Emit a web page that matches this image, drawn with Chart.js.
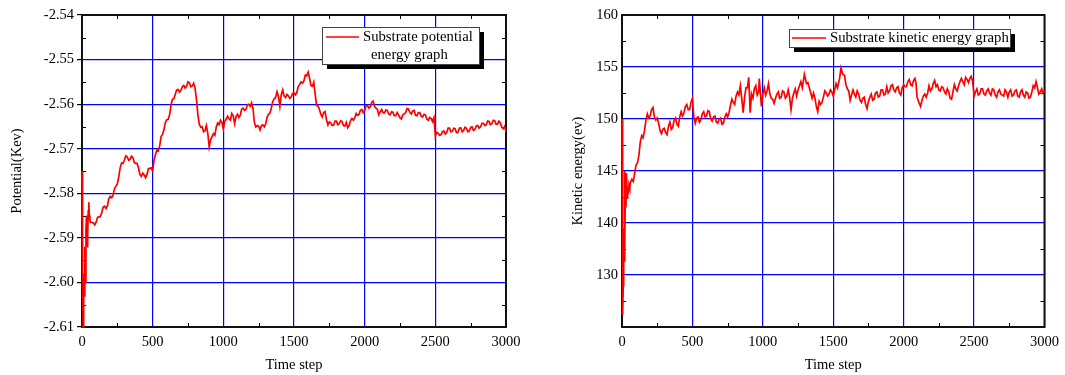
<!DOCTYPE html>
<html>
<head>
<meta charset="utf-8">
<script src="https://cdn.jsdelivr.net/npm/chart.js@4.4.1/dist/chart.umd.min.js"></script>
<style>
  html, body { margin: 0; padding: 0; background: #fff; }
  body { width: 1065px; height: 375px; position: relative; overflow: hidden; }
  canvas { position: absolute; top: 0; }
</style>
</head>
<body>
<canvas id="left" width="540" height="375" style="left:0"></canvas>
<canvas id="right" width="525" height="375" style="left:540px"></canvas>
<script>
// ---------------- data ----------------
const timeTicks = [0, 500, 1000, 1500, 2000, 2500, 3000];
const potTicks = [-2.61, -2.60, -2.59, -2.58, -2.57, -2.56, -2.55, -2.54];
const kinTicks = [130, 140, 145, 150, 155, 160];

// potential energy samples (set A)
const potTime = [0,4,8,12,16,20,24,28,32,36,40,44,48,52,56,60,
  80,100,120,140,160,180,200,220,240,260,280,300,320,340,360,380,400,420,440,460,480,500,
  520,540,560,580,600,620,640,660,680,700,720,740,760,780,800,820,840,860,880,900,920,940,960,980,1000,
  1020,1040,1060,1080,1100,1120,1140,1160,1180,1200,1220,1240,1260,1280,1300,1320,1340,1360,1380,1400,
  1420,1440,1460,1480,1500,1520,1540,1560,1580,1600,1620,1640,1660,1680,1700,1720,1740,1760,1780,1800,
  1820,1840,1860,1880,1900,1920,1940,1960,1980,2000,2020,2040,2060,2080,2100,2120,2140,2160,2180,2200,
  2220,2240,2260,2280,2300,2320,2340,2360,2380,2400,2420,2440,2460,2480,2490,2500,2520,2540,2560,2580,2600,
  2620,2640,2660,2680,2700,2720,2740,2760,2780,2800,2820,2840,2860,2880,2900,2920,2940,2960,2980,3000];
const potValue = [-2.5750,-2.6000,-2.6100,-2.5980,-2.6030,-2.5920,-2.6000,-2.5880,-2.5850,-2.5920,-2.5900,-2.5840,-2.5820,-2.5850,-2.5860,-2.5865,
  -2.5866,-2.5865,-2.5853,-2.5843,-2.5829,-2.5828,-2.5807,-2.5804,-2.5784,-2.5763,-2.5732,-2.5726,-2.5718,-2.5724,-2.5720,-2.5733,-2.5744,-2.5762,-2.5759,-2.5757,-2.5744,-2.5750,
  -2.5713,-2.5705,-2.5672,-2.5657,-2.5635,-2.5624,-2.5589,-2.5578,-2.5567,-2.5569,-2.5558,-2.5560,-2.5552,-2.5559,-2.5564,-2.5624,-2.5652,-2.5662,-2.5648,-2.5696,-2.5673,-2.5670,-2.5642,-2.5636,-2.5656,
  -2.5634,-2.5633,-2.5621,-2.5644,-2.5623,-2.5625,-2.5609,-2.5612,-2.5600,-2.5597,-2.5642,-2.5648,-2.5658,-2.5647,-2.5644,-2.5623,-2.5608,-2.5588,-2.5572,-2.5605,
  -2.5568,-2.5585,-2.5581,-2.5584,-2.5575,-2.5574,-2.5556,-2.5553,-2.5535,-2.5528,-2.5558,-2.5551,-2.5603,-2.5612,-2.5629,-2.5617,-2.5647,-2.5642,-2.5647,-2.5638,
  -2.5644,-2.5639,-2.5649,-2.5653,-2.5637,-2.5636,-2.5621,-2.5623,-2.5612,-2.5614,-2.5603,-2.5606,-2.5593,-2.5609,-2.5624,-2.5612,-2.5620,-2.5614,-2.5624,-2.5618,
  -2.5626,-2.5624,-2.5633,-2.5622,-2.5610,-2.5619,-2.5615,-2.5625,-2.5619,-2.5627,-2.5623,-2.5634,-2.5630,-2.5639,-2.5630,-2.5672,-2.5665,-2.5669,-2.5660,-2.5664,-2.5654,
  -2.5661,-2.5655,-2.5663,-2.5653,-2.5659,-2.5654,-2.5660,-2.5651,-2.5657,-2.5648,-2.5651,-2.5643,-2.5647,-2.5639,-2.5644,-2.5637,-2.5645,-2.5642,-2.5655,-2.5662];

// potential energy samples (set B, in between set A)
const potTimeB = [90,110,130,150,170,190,210,230,250,270,290,310,330,350,370,390,410,430,450,470,490,
  510,530,550,570,590,610,630,650,670,690,710,730,750,770,790,810,830,850,870,890,910,930,950,970,990,
  1010,1030,1050,1070,1090,1110,1130,1150,1170,1190,1210,1230,1250,1270,1290,1310,1330,1350,1370,1390,
  1410,1430,1450,1470,1490,1510,1530,1550,1570,1590,1610,1630,1650,1670,1690,1710,1730,1750,1770,1790,
  1810,1830,1850,1870,1890,1910,1930,1950,1970,1990,2010,2030,2050,2070,2090,2110,2130,2150,2170,2190,
  2210,2230,2250,2270,2290,2310,2330,2350,2370,2390,2410,2430,2450,2470,
  2510,2530,2550,2570,2590,2610,2630,2650,2670,2690,2710,2730,2750,2770,2790,2810,2830,2850,2870,2890,
  2910,2930,2950,2970,2990];
const potValueB = [-2.5871,-2.5854,-2.5852,-2.5831,-2.5834,-2.5812,-2.5810,-2.5790,-2.5779,-2.5743,-2.5733,-2.5716,-2.5726,-2.5717,-2.5731,-2.5733,-2.5758,-2.5755,-2.5765,-2.5745,-2.5743,
  -2.5725,-2.5703,-2.5693,-2.5668,-2.5641,-2.5634,-2.5602,-2.5588,-2.5568,-2.5573,-2.5561,-2.5564,-2.5550,-2.5561,-2.5553,-2.5590,-2.5645,-2.5651,-2.5660,-2.5665,-2.5680,-2.5666,-2.5651,-2.5646,-2.5641,
  -2.5639,-2.5627,-2.5636,-2.5626,-2.5628,-2.5630,-2.5611,-2.5614,-2.5601,-2.5605,-2.5610,-2.5651,-2.5650,-2.5648,-2.5651,-2.5629,-2.5620,-2.5594,-2.5585,-2.5582,
  -2.5579,-2.5582,-2.5578,-2.5587,-2.5576,-2.5579,-2.5560,-2.5550,-2.5548,-2.5536,-2.5542,-2.5560,-2.5578,-2.5604,-2.5623,-2.5619,-2.5635,-2.5640,-2.5648,-2.5638,
  -2.5646,-2.5637,-2.5648,-2.5641,-2.5648,-2.5632,-2.5631,-2.5625,-2.5614,-2.5619,-2.5603,-2.5609,-2.5596,-2.5605,-2.5612,-2.5617,-2.5619,-2.5613,-2.5622,-2.5617,
  -2.5626,-2.5619,-2.5631,-2.5624,-2.5619,-2.5611,-2.5622,-2.5614,-2.5626,-2.5619,-2.5629,-2.5624,-2.5636,-2.5632,
  -2.5663,-2.5670,-2.5662,-2.5667,-2.5654,-2.5662,-2.5654,-2.5664,-2.5654,-2.5662,-2.5652,-2.5662,-2.5652,-2.5659,-2.5649,-2.5654,-2.5643,-2.5648,-2.5638,-2.5646,
  -2.5636,-2.5645,-2.5638,-2.5652,-2.5650];

// kinetic energy samples (set A)
const kinTime = [0,3,6,9,12,15,18,21,24,28,32,36,40,45,50,55,60,70,80,
  100,120,140,160,180,200,220,240,260,280,300,320,340,360,380,400,420,440,460,480,500,
  520,540,560,580,600,620,640,660,680,700,720,740,760,780,800,820,840,860,880,900,910,920,940,960,975,990,1000,
  1020,1040,1060,1080,1100,1120,1140,1160,1180,1200,1220,1240,1260,1280,1295,1320,1340,1360,1380,1390,1400,
  1420,1440,1460,1480,1500,1520,1540,1555,1580,1600,1620,1640,1660,1680,1700,1720,1740,1760,1780,1800,
  1820,1840,1860,1880,1900,1920,1940,1960,1980,2000,2020,2040,2060,2080,2095,2120,2140,2160,2180,2200,
  2220,2240,2260,2280,2300,2320,2340,2360,2380,2400,2420,2440,2460,2480,2500,2520,2540,2560,2580,2600,
  2620,2640,2660,2680,2700,2720,2740,2760,2780,2800,2820,2840,2860,2880,2900,2920,2940,2960,2980,3000];
const kinValue = [150,135,122.3,128,139,132.7,145,136,143,141.5,144.8,142.4,143.5,142.8,143.7,143.4,143.9,144.2,144.0,
  145.6,146.5,148.4,148.9,150.5,150.3,151.1,149.9,149.6,148.6,149.1,148.5,149.7,149.2,150.1,149.3,150.7,150.6,151.4,150.9,152.0,
  149.6,150.2,149.9,150.7,150.3,150.7,149.8,150.3,149.6,150.1,149.6,150.5,150.6,151.9,151.4,152.6,153.2,150.6,153.0,154.0,150.6,152.4,152.9,152.3,153.9,151.2,152.4,
  152.3,153.4,152.0,151.5,152.4,152.0,152.7,152.0,152.8,150.9,152.5,152.2,153.2,153.0,154.3,153.5,152.5,152.5,151.2,150.7,151.7,
  151.6,152.7,152.2,152.8,152.2,153.4,153.6,154.9,154.2,152.9,151.8,152.8,152.1,152.4,151.6,152.1,151.0,152.1,151.8,152.5,
  152.1,152.8,152.3,153.1,152.7,153.3,152.6,153.1,152.3,153.3,153.1,153.8,153.2,153.9,152.1,151.2,152.2,152.1,153.2,152.9,
  153.7,153.3,152.7,153.0,152.4,152.6,151.9,153.3,152.7,153.6,153.6,154.0,153.5,154.1,152.2,152.9,152.4,152.9,152.3,152.9,
  152.3,152.8,152.1,152.8,152.3,152.8,152.1,152.8,152.3,152.8,152.1,152.8,152.1,152.5,152.1,153.2,153.6,152.4,152.9,152.7];

// kinetic energy samples (set B, in between set A)
const kinTimeB = [110,130,150,170,190,210,230,250,270,290,310,330,350,370,390,410,430,450,470,490,
  510,530,550,570,590,610,630,650,670,690,710,730,750,770,790,810,830,850,870,890,930,950,970,
  1010,1030,1050,1070,1090,1110,1130,1150,1170,1190,1210,1230,1250,1270,1287,1310,1330,1350,1370,
  1410,1430,1450,1470,1490,1510,1530,1545,1567,1590,1610,1630,1650,1670,1690,1710,1730,1750,1770,1790,
  1810,1830,1850,1870,1890,1910,1930,1950,1970,1990,2010,2030,2050,2070,2088,2108,2130,2150,2170,2190,
  2210,2230,2250,2270,2290,2310,2330,2350,2370,2390,2410,2430,2450,2470,2490,2510,2530,2550,2570,2590,
  2610,2630,2650,2670,2690,2710,2730,2750,2770,2790,2810,2830,2850,2870,2890,2910,2930,2950,2970,2990];
const kinValueB = [145.8,147.8,148.2,149.9,150.1,150.9,150.2,150.1,148.9,149.0,148.7,149.3,149.0,149.9,149.5,150.2,150.3,151.2,150.9,151.6,
  150.2,150.1,149.7,150.5,150.2,150.8,150.0,150.2,149.7,150.0,149.5,150.2,150.2,151.3,151.6,152.2,152.3,152.0,152.0,153.0,152.0,153.2,152.6,
  153.0,152.7,152.4,151.9,152.0,152.6,152.1,152.6,152.2,152.1,152.0,152.9,152.8,153.6,153.6,153.4,153.0,152.0,152.0,
  151.4,152.1,152.5,152.4,152.6,152.8,153.0,153.9,154.3,153.3,152.7,152.3,152.4,152.7,151.8,152.0,151.4,151.7,152.4,151.9,
  152.6,152.2,152.8,152.4,152.5,153.2,152.8,153.0,152.5,153.0,153.1,153.6,153.3,153.7,153.4,151.6,151.8,152.4,152.5,152.7,
  153.4,153.1,152.8,153.1,152.6,152.9,152.0,152.6,152.9,153.2,153.9,153.3,153.8,153.9,153.6,152.6,152.3,152.9,152.4,152.7,
  152.5,152.9,152.3,152.6,152.4,152.2,152.6,152.6,152.2,152.7,152.2,152.6,152.3,152.6,152.0,152.6,153.0,153.0,152.6,152.5];

const FONT = "'Liberation Serif', 'Times New Roman', serif";

function mergeSamples(tA, vA, tB, vB) {
  const pts = tA.map((t, i) => ({ x: t, y: vA[i] })).concat(tB.map((t, i) => ({ x: t, y: vB[i] })));
  return pts.sort((a, b) => a.x - b.x);
}

// ---------------- piecewise (broken) y scale for the kinetic chart ----------------
class BrokenLinearScale extends Chart.LinearScale {
  _toUnit(v) { return v >= 140 ? 2 + (v - 140) / 5 : (v - 120) / 10; }
  getPixelForValue(v) {
    if (v === null || v === undefined || isNaN(v)) return NaN;
    return this.getPixelForDecimal(this._toUnit(v) / 6);
  }
  getValueForPixel(p) {
    const u = this.getDecimalForPixel(p) * 6;
    return u >= 2 ? 140 + (u - 2) * 5 : 120 + u * 10;
  }
}
BrokenLinearScale.id = 'brokenLinear';
BrokenLinearScale.defaults = Chart.LinearScale.defaults;
Chart.register(BrokenLinearScale);

// ---------------- plugins ----------------
const framePlugin = {
  id: 'frame',
  beforeDatasetsDraw(chart) {
    const { ctx, chartArea: { left, right, top, bottom }, scales: { x, y } } = chart;
    ctx.save();
    ctx.strokeStyle = '#000';
    ctx.lineWidth = 1;
    ctx.beginPath();
    const xp = x.ticks.map(t => x.getPixelForValue(t.value));
    for (let i = 0; i < xp.length - 1; i++) {
      const m = Math.round((xp[i] + xp[i + 1]) / 2) + 0.5;
      ctx.moveTo(m, bottom); ctx.lineTo(m, bottom - 4);
      ctx.moveTo(m, top); ctx.lineTo(m, top + 4);
    }
    let yp = y.ticks.map(t => y.getPixelForValue(t.value)).concat([top, bottom]);
    yp = Array.from(new Set(yp.map(v => Math.round(v)))).sort((a, b) => a - b);
    for (let i = 0; i < yp.length - 1; i++) {
      const m = Math.round((yp[i] + yp[i + 1]) / 2) + 0.5;
      ctx.moveTo(left, m); ctx.lineTo(left + 4, m);
      ctx.moveTo(right, m); ctx.lineTo(right - 4, m);
    }
    ctx.stroke();
    ctx.lineWidth = 2;
    ctx.strokeStyle = '#111';
    ctx.strokeRect(left, top, right - left, bottom - top);
    ctx.restore();
  }
};

const boxLegend = {
  id: 'boxLegend',
  afterDraw(chart, args, o) {
    const ctx = chart.ctx;
    ctx.save();
    ctx.fillStyle = '#000';
    ctx.fillRect(o.x + 5, o.y + 5, o.w, o.h);
    ctx.fillStyle = '#fff';
    ctx.fillRect(o.x, o.y, o.w, o.h);
    ctx.strokeStyle = '#444';
    ctx.lineWidth = 1;
    ctx.strokeRect(o.x + 0.5, o.y + 0.5, o.w, o.h);
    ctx.strokeStyle = '#ff0000';
    ctx.lineWidth = 1.5;
    ctx.beginPath();
    ctx.moveTo(o.lx1, o.ly); ctx.lineTo(o.lx2, o.ly);
    ctx.stroke();
    ctx.fillStyle = '#000';
    ctx.font = '14.7px ' + FONT;
    ctx.textBaseline = 'middle';
    ctx.textAlign = 'left';
    o.lines.forEach(l => ctx.fillText(l.text, l.x, l.y));
    ctx.restore();
  }
};

function makeChart(id, points, yType, yMin, yMax, yTickVals, yLabelFmt, yTitle, yTitlePad, drawYTicks, rightPad, legendOpts) {
  return new Chart(document.getElementById(id), {
    type: 'line',
    data: {
      datasets: [{
        data: points,
        borderColor: '#ff0000',
        borderWidth: 1.7,
        pointRadius: 0,
        tension: 0,
        fill: false,
        clip: false
      }]
    },
    options: {
      responsive: false,
      animation: false,
      events: [],
      layout: { padding: { left: 0, top: 15, right: rightPad, bottom: 0 } },
      plugins: { legend: { display: false }, tooltip: { enabled: false }, boxLegend: legendOpts },
      scales: {
        x: {
          type: 'linear', min: 0, max: 3000,
          afterBuildTicks: s => { s.ticks = timeTicks.map(v => ({ value: v })); },
          afterFit: s => { s.height = 48; },
          grid: { color: '#0000ff', lineWidth: 1.2, drawTicks: false },
          border: { display: false },
          ticks: { color: '#000', padding: 6, maxRotation: 0, font: { family: FONT, size: 14.5 }, callback: v => String(v) },
          title: { display: true, text: 'Time step', color: '#000', font: { family: FONT, size: 14.5 }, padding: { top: 0, bottom: 1 } }
        },
        y: {
          type: yType, min: yMin, max: yMax,
          afterBuildTicks: s => { s.ticks = yTickVals.map(v => ({ value: v })); },
          afterFit: s => { s.width = 82; },
          grid: { color: '#0000ff', lineWidth: 1.2, drawTicks: drawYTicks, tickLength: 5, tickColor: '#000' },
          border: { display: false },
          ticks: { color: '#000', padding: drawYTicks ? 3 : 4, font: { family: FONT, size: 14.5 }, callback: yLabelFmt },
          title: { display: true, text: yTitle, color: '#000', font: { family: FONT, size: 14.5 }, padding: { top: yTitlePad, bottom: 0 } }
        }
      }
    },
    plugins: [framePlugin, boxLegend]
  });
}

makeChart('left', mergeSamples(potTime, potValue, potTimeB, potValueB), 'linear', -2.61, -2.54, potTicks, v => Number(v).toFixed(2),
  'Potential(Kev)', 8.3, true, 34,
  { x: 322, y: 27, w: 157, h: 37, lx1: 326, lx2: 359, ly: 37,
    lines: [{ text: 'Substrate potential', x: 363, y: 37 }, { text: 'energy graph', x: 371, y: 55 }] });

makeChart('right', mergeSamples(kinTime, kinValue, kinTimeB, kinValueB), 'brokenLinear', 120, 160, kinTicks, v => String(v),
  'Kinetic energy(ev)', 29.3, false, 19,
  { x: 249, y: 29, w: 221, h: 18, lx1: 252, lx2: 286, ly: 38,
    lines: [{ text: 'Substrate kinetic energy graph', x: 290, y: 38.5 }] });
</script>
</body>
</html>
